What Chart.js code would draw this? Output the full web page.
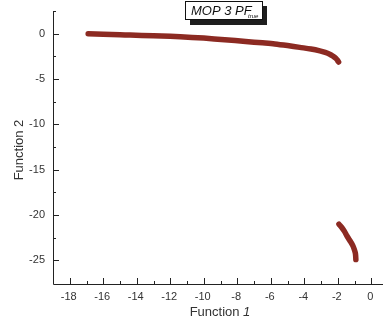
<!DOCTYPE html>
<html>
<head>
<meta charset="utf-8">
<script src="https://cdn.jsdelivr.net/npm/chart.js@4.4.1/dist/chart.umd.min.js"></script>
<style>
  html, body { margin: 0; padding: 0; background: #fff; }
  #wrap { width: 384px; height: 324px; }
</style>
</head>
<body>
<div id="wrap"><canvas id="mop3Chart" width="384" height="324"></canvas></div>
<script>
// Pareto front, two disconnected pieces
var upperF1 = [-16.9, -16.0, -15.0, -14.4, -13.0, -12.0, -11.4, -10.0, -8.75, -7.5, -6.5, -5.76, -5.0, -4.27, -3.6, -3.07, -2.75, -2.48, -2.3, -2.12, -2.02, -1.95];
var upperF2 = [0.0, -0.05, -0.1, -0.15, -0.22, -0.28, -0.33, -0.48, -0.66, -0.85, -1.0, -1.12, -1.3, -1.5, -1.68, -1.88, -2.05, -2.25, -2.45, -2.7, -2.92, -3.12];
var lowerF1 = [-1.93, -1.75, -1.6, -1.48, -1.3, -1.12, -1.02, -0.95, -0.93, -0.92];
var lowerF2 = [-21.0, -21.4, -21.8, -22.2, -22.75, -23.3, -23.75, -24.2, -24.55, -24.9];

var xMajor = [-18, -16, -14, -12, -10, -8, -6, -4, -2, 0];
var xMinor = [-19, -17, -15, -13, -11, -9, -7, -5, -3, -1];
var yMajor = [0, -5, -10, -15, -20, -25];
var yMinor = [2.5, -2.5, -7.5, -12.5, -17.5, -22.5, -27.5];

var curveColor = '#8c2a22';
var font = 'Arial, "Liberation Sans", sans-serif';

function toPoints(xs, ys) {
  return xs.map(function (x, i) { return { x: x, y: ys[i] }; });
}

// inward ticks, tick labels, axis titles and the boxed title
var decor = {
  id: 'decor',
  afterDraw: function (chart) {
    var ctx = chart.ctx;
    var xs = chart.scales.x, ys = chart.scales.y;
    var left = chart.chartArea.left, bottom = chart.chartArea.bottom;
    var right = chart.chartArea.right, top = chart.chartArea.top;
    ctx.save();
    ctx.strokeStyle = '#222';
    ctx.lineWidth = 1;
    ctx.beginPath();
    ctx.moveTo(left + 0.5, top);
    ctx.lineTo(left + 0.5, bottom + 0.5);
    ctx.lineTo(right, bottom + 0.5);
    ctx.stroke();

    ctx.beginPath();
    xMajor.forEach(function (v) {
      var p = Math.round(xs.getPixelForValue(v)) + 0.5;
      ctx.moveTo(p, bottom); ctx.lineTo(p, bottom - 6);
    });
    xMinor.forEach(function (v) {
      var p = Math.round(xs.getPixelForValue(v)) + 0.5;
      if (p > left + 1) { ctx.moveTo(p, bottom); ctx.lineTo(p, bottom - 3); }
    });
    yMajor.forEach(function (v) {
      var p = Math.round(ys.getPixelForValue(v)) + 0.5;
      ctx.moveTo(left, p); ctx.lineTo(left + 6, p);
    });
    yMinor.forEach(function (v) {
      var p = Math.round(ys.getPixelForValue(v)) + 0.5;
      if (p < bottom - 1) { ctx.moveTo(left, p); ctx.lineTo(left + 3, p); }
    });
    ctx.stroke();

    ctx.fillStyle = '#333';
    ctx.font = '11px ' + font;
    ctx.textAlign = 'center';
    ctx.textBaseline = 'middle';
    xMajor.forEach(function (v) {
      ctx.fillText(String(v), xs.getPixelForValue(v) - 1, bottom + 13);
    });
    ctx.textAlign = 'right';
    yMajor.forEach(function (v) {
      ctx.fillText(String(v), left - 8, ys.getPixelForValue(v));
    });

    // axis titles
    ctx.font = '13px ' + font;
    ctx.textAlign = 'left';
    var t1 = 'Function ';
    var w1 = ctx.measureText(t1).width;
    ctx.font = 'italic 13px ' + font;
    var w2 = ctx.measureText('1').width;
    var sx = (left + right) / 2 + 2 - (w1 + w2) / 2;
    ctx.font = '13px ' + font;
    ctx.fillText(t1, sx, 312);
    ctx.font = 'italic 13px ' + font;
    ctx.fillText('1', sx + w1, 312);

    ctx.save();
    ctx.translate(19, (top + bottom) / 2 + 2);
    ctx.rotate(-Math.PI / 2);
    ctx.font = '13px ' + font;
    ctx.textAlign = 'center';
    ctx.fillText('Function 2', 0, 0);
    ctx.restore();

    // title box with drop shadow
    ctx.fillStyle = '#1e1e1e';
    ctx.fillRect(190, 6, 77, 19);
    ctx.fillStyle = '#fff';
    ctx.fillRect(185, 1, 77, 19);
    ctx.strokeStyle = '#111';
    ctx.strokeRect(185.5, 1.5, 77, 18);
    ctx.fillStyle = '#111';
    ctx.font = 'italic 13px ' + font;
    ctx.textBaseline = 'alphabetic';
    ctx.fillText('MOP 3 PF', 191, 15);
    ctx.font = 'italic 6px ' + font;
    ctx.fillText('true', 248, 18);
    ctx.restore();
  }
};

new Chart(document.getElementById('mop3Chart').getContext('2d'), {
  type: 'scatter',
  data: {
    datasets: [
      {
        data: toPoints(upperF1, upperF2),
        showLine: true,
        borderColor: curveColor,
        backgroundColor: curveColor,
        borderWidth: 5.5,
        borderCapStyle: 'round',
        borderJoinStyle: 'round',
        pointRadius: 0,
        tension: 0.3
      },
      {
        data: toPoints(lowerF1, lowerF2),
        showLine: true,
        borderColor: curveColor,
        backgroundColor: curveColor,
        borderWidth: 5.5,
        borderCapStyle: 'round',
        borderJoinStyle: 'round',
        pointRadius: 0,
        tension: 0.3
      }
    ]
  },
  options: {
    responsive: false,
    animation: false,
    events: [],
    layout: { padding: { top: 12, right: 1, left: 0, bottom: 0 } },
    plugins: { legend: { display: false }, tooltip: { enabled: false } },
    scales: {
      x: {
        type: 'linear', min: -19, max: 0.7,
        grid: { display: false }, border: { display: false },
        ticks: { display: false },
        afterFit: function (s) { s.height = 40; }
      },
      y: {
        type: 'linear', min: -27.6, max: 2.4,
        grid: { display: false }, border: { display: false },
        ticks: { display: false },
        afterFit: function (s) { s.width = 53; }
      }
    }
  },
  plugins: [decor]
});
</script>
</body>
</html>
